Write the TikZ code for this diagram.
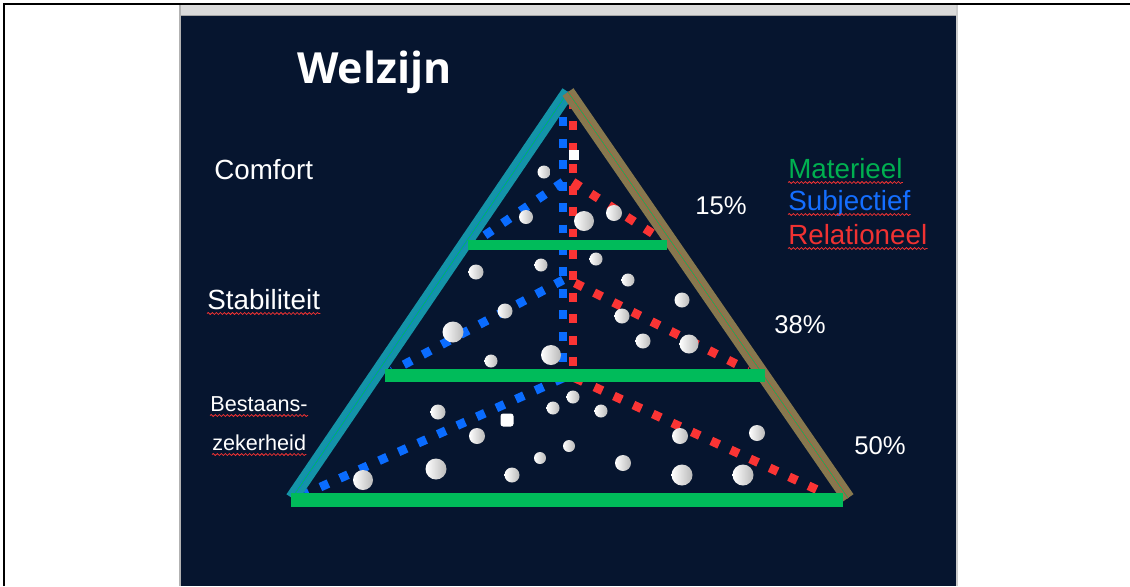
\documentclass[tikz,border=0pt]{standalone}
\usepackage{fontspec}
\setmainfont{Liberation Sans}
\newfontfamily\titlefont{Open Sans}
\usetikzlibrary{calc, decorations.pathmorphing}
\definecolor{slideNavy}{RGB}{6, 21, 47}
\definecolor{barGray}{RGB}{218, 218, 218}
\definecolor{levelGreen}{RGB}{0, 187, 90}
\definecolor{dashBlue}{RGB}{10, 108, 255}
\definecolor{dashRed}{RGB}{250, 52, 52}
\definecolor{edgeTeal}{RGB}{20, 148, 168}
\definecolor{edgeOlive}{RGB}{135, 120, 78}
\definecolor{textGreen}{RGB}{0, 176, 80}
\definecolor{textBlue}{RGB}{20, 110, 255}
\definecolor{textRed}{RGB}{240, 50, 50}

\begin{document}
\begin{tikzpicture}[
    x=0.02cm, y=-0.02cm,
    lbl/.style={anchor=base west, inner sep=0pt, text=white, font=\fontsize{15.8}{19}\selectfont},
    small/.style={lbl, font=\fontsize{12.3}{15}\selectfont},
    pct/.style={lbl, font=\fontsize{14.6}{17}\selectfont},
    squiggle/.style={draw=textRed, line width=0.45pt, decorate, decoration={snake, amplitude=0.55pt, segment length=2.3pt}},
    dashline/.style={line width=5pt, dash pattern=on 5pt off 7.2pt},
    level/.style={levelGreen, line width=#1},
    dot/.style={left color=white, middle color=white, right color=gray!55}
]
    \useasboundingbox (0,0) rectangle (1130,586);
    \fill[white] (0,0) rectangle (1130,586);
    \draw[black, line width=0.9pt] (4,586) -- (4,4) -- (1130,4);

    % slide
    \fill[barGray] (180,5) rectangle (957,15);
    \fill[slideNavy] (180,15) rectangle (957,586);
    \draw[gray!70, line width=0.5pt] (180,15) -- (957,15);
    \draw[gray!60, line width=0.8pt] (180,5) -- (180,586);
    \draw[gray!40, line width=0.8pt] (957,5) -- (957,586);

    % pyramid corners
    \coordinate (apex) at (568,92);
    \coordinate (lb) at (292,498);
    \coordinate (rb) at (848,498);

    % dashed lines
    \coordinate (bTop) at (563,96);   \coordinate (bMid) at (563,372);
    \coordinate (rTop) at (573,100);  \coordinate (rMid) at (573,372);
    \coordinate (bA) at (563,182);    \coordinate (bAend) at (478,240);
    \coordinate (rA) at (573,182);    \coordinate (rAend) at (658,237);
    \coordinate (bB) at (563,280);    \coordinate (bBend) at (392,371);
    \coordinate (rB) at (575,283);    \coordinate (rBend) at (748,370);
    \coordinate (bC) at (563,378);    \coordinate (bCend) at (305,494);
    \coordinate (rC) at (575,378);    \coordinate (rCend) at (822,492);
    \draw[dashline, dashBlue] (bTop) -- (bMid);
    \draw[dashline, dashRed] (rTop) -- (rMid);
    \foreach \s/\e in {bA/bAend, bB/bBend, bC/bCend}
        \draw[dashline, dashBlue] (\s) -- (\e);
    \foreach \s/\e in {rA/rAend, rB/rBend, rC/rCend}
        \draw[dashline, dashRed] (\s) -- (\e);

    % sides
    \draw[edgeTeal, line width=7.6pt] (lb) -- (apex);
    \draw[dashBlue, line width=1.2pt, shift={(5,3.4)}] (lb) -- (apex);
    \draw[levelGreen!70!edgeTeal, line width=0.8pt, shift={(-5,-3.4)}] (lb) -- (apex);
    \draw[edgeOlive, line width=7.6pt] (apex) -- (rb);
    \draw[dashRed, line width=1.2pt, shift={(5,-3.4)}] (apex) -- (rb);
    \draw[levelGreen!60!edgeOlive, line width=0.8pt, shift={(-5,3.4)}] (apex) -- (rb);

    % levels
    \coordinate (l1a) at (468,245); \coordinate (l1b) at (667,245);
    \coordinate (l2a) at (385,375); \coordinate (l2b) at (765,375);
    \coordinate (l3a) at (291,500); \coordinate (l3b) at (843,500);
    \draw[level=6pt] (l1a) -- (l1b);
    \draw[level=7.4pt] (l2a) -- (l2b);
    \draw[level=8.2pt] (l3a) -- (l3b);

    % dots
    \foreach \x/\y/\r in {544/172/6.5, 526/217/7, 584/221/10, 614/213/8,
        476/272/7.5, 541/265/6.5, 596/259/6.5, 628/280/6.5, 682/300/7.5,
        505/311/7.5, 622/316/7.5, 453/332/10.5, 643/341/7.5, 689/344/9.5,
        551/355/10, 491/361/6.5, 438/412/7.5, 573/397/6.5, 553/408/6.5,
        601/411/6.5, 477/436/8, 569/446/6, 540/458/6, 623/463/8,
        512/475/7.5, 436/469/10.5, 363/480/10, 680/436/8, 682/475/10.5,
        757/433/8, 743/475/10.5}
        \shade[dot] (\x,\y) circle (\r);
    \fill[white] (569,150) rectangle (579,160);
    \fill[white, rounded corners=1.5pt] (500.5,413.5) rectangle (513.5,426.5);

    % texts
    \node[lbl, font=\titlefont\bfseries\fontsize{24.4}{28}\selectfont] (title) at (297,83) {Welzijn};
    \node[lbl] (comfort) at (214,179) {Comfort};
    \node[lbl] (stab) at (207,309) {Stabiliteit};
    \node[small] (best) at (210,411) {Bestaans-};
    \node[small] (zek) at (212,450) {zekerheid};
    \node[lbl, text=textGreen] (mat) at (788,178) {Materieel};
    \node[lbl, text=textBlue] (sub) at (788,210) {Subjectief};
    \node[lbl, text=textRed] (rel) at (788,244) {Relationeel};
    \node[pct] (p15) at (695,214) {15\%};
    \node[pct] (p38) at (774,333) {38\%};
    \node[pct] (p50) at (854,454) {50\%};

    % spelling marks
    \foreach \n in {stab, best, zek, mat, sub, rel}
        \draw[squiggle] ($(\n.base west)+(0,4.5)$) -- ($(\n.base east)+(0,4.5)$);
\end{tikzpicture}
\end{document}
